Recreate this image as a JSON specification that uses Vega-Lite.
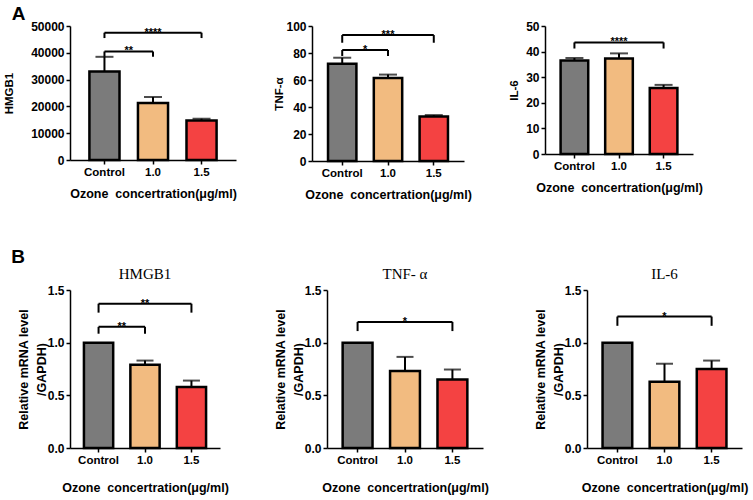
{
  "$schema": "https://vega.github.io/schema/vega-lite/v6.json",
  "padding": {"left": 3, "right": 3, "top": 5, "bottom": 3},
  "background": "white",
  "datasets": {
    "bars": [
      {"panel": "A1", "group": "Control", "value": 33000, "upper": 38500},
      {"panel": "A1", "group": "1.0", "value": 21300, "upper": 23500},
      {"panel": "A1", "group": "1.5", "value": 14700, "upper": 15400},
      {"panel": "A2", "group": "Control", "value": 72, "upper": 76.5},
      {"panel": "A2", "group": "1.0", "value": 61.5, "upper": 64},
      {"panel": "A2", "group": "1.5", "value": 33, "upper": 34},
      {"panel": "A3", "group": "Control", "value": 36.5, "upper": 37.5},
      {"panel": "A3", "group": "1.0", "value": 37.3, "upper": 39.3},
      {"panel": "A3", "group": "1.5", "value": 25.8, "upper": 27},
      {"panel": "B1", "group": "Control", "value": 1.0, "upper": null},
      {"panel": "B1", "group": "1.0", "value": 0.79, "upper": 0.83},
      {"panel": "B1", "group": "1.5", "value": 0.58, "upper": 0.64},
      {"panel": "B2", "group": "Control", "value": 1.0, "upper": null},
      {"panel": "B2", "group": "1.0", "value": 0.73, "upper": 0.865},
      {"panel": "B2", "group": "1.5", "value": 0.65, "upper": 0.745},
      {"panel": "B3", "group": "Control", "value": 1.0, "upper": null},
      {"panel": "B3", "group": "1.0", "value": 0.63, "upper": 0.80},
      {"panel": "B3", "group": "1.5", "value": 0.75, "upper": 0.83}
    ],
    "brackets": [
      {"panel": "A1", "from": "Control", "to": "1.0", "mid": "Control", "span": 1, "y": 40500, "leg": 38500, "label": "**"},
      {"panel": "A1", "from": "Control", "to": "1.5", "mid": "1.0", "span": 2, "y": 47500, "leg": 45500, "label": "****"},
      {"panel": "A2", "from": "Control", "to": "1.0", "mid": "Control", "span": 1, "y": 82.2, "leg": 77.8, "label": "*"},
      {"panel": "A2", "from": "Control", "to": "1.5", "mid": "1.0", "span": 2, "y": 93.3, "leg": 87.6, "label": "***"},
      {"panel": "A3", "from": "Control", "to": "1.5", "mid": "1.0", "span": 2, "y": 43.6, "leg": 41.2, "label": "****"},
      {"panel": "B1", "from": "Control", "to": "1.0", "mid": "Control", "span": 1, "y": 1.15, "leg": 1.085, "label": "**"},
      {"panel": "B1", "from": "Control", "to": "1.5", "mid": "1.0", "span": 2, "y": 1.37, "leg": 1.285, "label": "**"},
      {"panel": "B2", "from": "Control", "to": "1.5", "mid": "1.0", "span": 2, "y": 1.197, "leg": 1.11, "label": "*"},
      {"panel": "B3", "from": "Control", "to": "1.5", "mid": "1.0", "span": 2, "y": 1.248, "leg": 1.16, "label": "*"}
    ]
  },
  "columns": 1,
  "align": "none",
  "spacing": 47,
  "concat": [
    {
      "title": {"text": "A", "anchor": "start", "font": "Liberation Sans", "fontSize": 19, "fontWeight": "bold", "color": "black", "offset": -4, "dx": 8},
      "spacing": 36,
      "hconcat": [
        {
          "width": 166, "height": 134,
          "layer": [
            {"data": {"name": "bars"}, "transform": [{"filter": "datum.panel === 'A1'"}],
             "mark": {"type": "bar", "stroke": "black", "strokeWidth": 2.5},
             "encoding": {
               "x": {"field": "group", "type": "nominal", "sort": ["Control", "1.0", "1.5"], "scale": {"domain": ["Control", "1.0", "1.5"], "paddingInner": 0.38, "paddingOuter": 0.4}, "title": "Ozone\u00a0 concertration(μg/ml)", "axis": {"titlePadding": 10}},
               "y": {"field": "value", "type": "quantitative", "scale": {"domain": [0, 50000], "nice": false}, "title": "HMGB1", "axis": {"values": [0, 10000, 20000, 30000, 40000, 50000], "format": "d", "titlePadding": 16, "titleFontSize": 11.5}},
               "fill": {"field": "group", "type": "nominal", "scale": {"domain": ["Control", "1.0", "1.5"], "range": ["#7b7b7b", "#f2bb80", "#f44242"]}, "legend": null}
             }},
            {"data": {"name": "bars"}, "transform": [{"filter": "datum.panel === 'A1' && isValid(datum.upper)"}],
             "mark": {"type": "rule", "strokeWidth": 2, "color": "black"},
             "encoding": {"x": {"field": "group", "type": "nominal", "title": "Ozone\u00a0 concertration(μg/ml)"}, "y": {"field": "value", "type": "quantitative", "title": "HMGB1", "axis": {"values": [0, 10000, 20000, 30000, 40000, 50000], "format": "d", "titlePadding": 16, "titleFontSize": 11.5}}, "y2": {"field": "upper"}}},
            {"data": {"name": "bars"}, "transform": [{"filter": "datum.panel === 'A1' && isValid(datum.upper)"}],
             "mark": {"type": "tick", "thickness": 2, "size": 18, "color": "black"},
             "encoding": {"x": {"field": "group", "type": "nominal", "title": "Ozone\u00a0 concertration(μg/ml)"}, "y": {"field": "upper", "type": "quantitative", "title": "HMGB1", "axis": {"values": [0, 10000, 20000, 30000, 40000, 50000], "format": "d", "titlePadding": 16, "titleFontSize": 11.5}}}},
            {"data": {"name": "brackets"}, "transform": [{"filter": "datum.panel === 'A1'"}],
             "mark": {"type": "rule", "strokeWidth": 2, "color": "black"},
             "encoding": {"x": {"field": "from", "type": "nominal", "title": "Ozone\u00a0 concertration(μg/ml)"}, "x2": {"field": "to"}, "y": {"field": "y", "type": "quantitative", "title": "HMGB1", "axis": {"values": [0, 10000, 20000, 30000, 40000, 50000], "format": "d", "titlePadding": 16, "titleFontSize": 11.5}}}},
            {"data": {"name": "brackets"}, "transform": [{"filter": "datum.panel === 'A1'"}],
             "mark": {"type": "rule", "strokeWidth": 2, "color": "black"},
             "encoding": {"x": {"field": "from", "type": "nominal", "title": "Ozone\u00a0 concertration(μg/ml)"}, "y": {"field": "leg", "type": "quantitative", "title": "HMGB1", "axis": {"values": [0, 10000, 20000, 30000, 40000, 50000], "format": "d", "titlePadding": 16, "titleFontSize": 11.5}}, "y2": {"field": "y"}}},
            {"data": {"name": "brackets"}, "transform": [{"filter": "datum.panel === 'A1'"}],
             "mark": {"type": "rule", "strokeWidth": 2, "color": "black"},
             "encoding": {"x": {"field": "to", "type": "nominal", "title": "Ozone\u00a0 concertration(μg/ml)"}, "y": {"field": "leg", "type": "quantitative", "title": "HMGB1", "axis": {"values": [0, 10000, 20000, 30000, 40000, 50000], "format": "d", "titlePadding": 16, "titleFontSize": 11.5}}, "y2": {"field": "y"}}},
            {"data": {"name": "brackets"}, "transform": [{"filter": "datum.panel === 'A1' && datum.span === 1"}],
             "mark": {"type": "text", "fontSize": 11, "fontWeight": "bold", "baseline": "middle", "font": "Liberation Sans"},
             "encoding": {"x": {"field": "mid", "type": "nominal", "bandPosition": 1.306, "title": "Ozone\u00a0 concertration(μg/ml)"}, "y": {"field": "y", "type": "quantitative", "title": "HMGB1", "axis": {"values": [0, 10000, 20000, 30000, 40000, 50000], "format": "d", "titlePadding": 16, "titleFontSize": 11.5}}, "text": {"field": "label"}}},
            {"data": {"name": "brackets"}, "transform": [{"filter": "datum.panel === 'A1' && datum.span === 2"}],
             "mark": {"type": "text", "fontSize": 11, "fontWeight": "bold", "baseline": "middle", "font": "Liberation Sans"},
             "encoding": {"x": {"field": "mid", "type": "nominal", "title": "Ozone\u00a0 concertration(μg/ml)"}, "y": {"field": "y", "type": "quantitative", "title": "HMGB1", "axis": {"values": [0, 10000, 20000, 30000, 40000, 50000], "format": "d", "titlePadding": 16, "titleFontSize": 11.5}}, "text": {"field": "label"}}}
          ]
        },
        {
          "width": 152, "height": 135,
          "layer": [
            {"data": {"name": "bars"}, "transform": [{"filter": "datum.panel === 'A2'"}],
             "mark": {"type": "bar", "stroke": "black", "strokeWidth": 2.5},
             "encoding": {
               "x": {"field": "group", "type": "nominal", "sort": ["Control", "1.0", "1.5"], "scale": {"domain": ["Control", "1.0", "1.5"], "paddingInner": 0.38, "paddingOuter": 0.35}, "title": "Ozone\u00a0 concertration(μg/ml)", "axis": {"titlePadding": 10}},
               "y": {"field": "value", "type": "quantitative", "scale": {"domain": [0, 100], "nice": false}, "title": "TNF-α", "axis": {"values": [0, 20, 40, 60, 80, 100], "format": "d", "titlePadding": 1, "titleFontSize": 11.5}},
               "fill": {"field": "group", "type": "nominal", "scale": {"domain": ["Control", "1.0", "1.5"], "range": ["#7b7b7b", "#f2bb80", "#f44242"]}, "legend": null}
             }},
            {"data": {"name": "bars"}, "transform": [{"filter": "datum.panel === 'A2' && isValid(datum.upper)"}],
             "mark": {"type": "rule", "strokeWidth": 2, "color": "black"},
             "encoding": {"x": {"field": "group", "type": "nominal", "title": "Ozone\u00a0 concertration(μg/ml)"}, "y": {"field": "value", "type": "quantitative", "title": "TNF-α", "axis": {"values": [0, 20, 40, 60, 80, 100], "format": "d", "titlePadding": 1, "titleFontSize": 11.5}}, "y2": {"field": "upper"}}},
            {"data": {"name": "bars"}, "transform": [{"filter": "datum.panel === 'A2' && isValid(datum.upper)"}],
             "mark": {"type": "tick", "thickness": 2, "size": 18, "color": "black"},
             "encoding": {"x": {"field": "group", "type": "nominal", "title": "Ozone\u00a0 concertration(μg/ml)"}, "y": {"field": "upper", "type": "quantitative", "title": "TNF-α", "axis": {"values": [0, 20, 40, 60, 80, 100], "format": "d", "titlePadding": 1, "titleFontSize": 11.5}}}},
            {"data": {"name": "brackets"}, "transform": [{"filter": "datum.panel === 'A2'"}],
             "mark": {"type": "rule", "strokeWidth": 2, "color": "black"},
             "encoding": {"x": {"field": "from", "type": "nominal", "title": "Ozone\u00a0 concertration(μg/ml)"}, "x2": {"field": "to"}, "y": {"field": "y", "type": "quantitative", "title": "TNF-α", "axis": {"values": [0, 20, 40, 60, 80, 100], "format": "d", "titlePadding": 1, "titleFontSize": 11.5}}}},
            {"data": {"name": "brackets"}, "transform": [{"filter": "datum.panel === 'A2'"}],
             "mark": {"type": "rule", "strokeWidth": 2, "color": "black"},
             "encoding": {"x": {"field": "from", "type": "nominal", "title": "Ozone\u00a0 concertration(μg/ml)"}, "y": {"field": "leg", "type": "quantitative", "title": "TNF-α", "axis": {"values": [0, 20, 40, 60, 80, 100], "format": "d", "titlePadding": 1, "titleFontSize": 11.5}}, "y2": {"field": "y"}}},
            {"data": {"name": "brackets"}, "transform": [{"filter": "datum.panel === 'A2'"}],
             "mark": {"type": "rule", "strokeWidth": 2, "color": "black"},
             "encoding": {"x": {"field": "to", "type": "nominal", "title": "Ozone\u00a0 concertration(μg/ml)"}, "y": {"field": "leg", "type": "quantitative", "title": "TNF-α", "axis": {"values": [0, 20, 40, 60, 80, 100], "format": "d", "titlePadding": 1, "titleFontSize": 11.5}}, "y2": {"field": "y"}}},
            {"data": {"name": "brackets"}, "transform": [{"filter": "datum.panel === 'A2' && datum.span === 1"}],
             "mark": {"type": "text", "fontSize": 11, "fontWeight": "bold", "baseline": "middle", "font": "Liberation Sans"},
             "encoding": {"x": {"field": "mid", "type": "nominal", "bandPosition": 1.306, "title": "Ozone\u00a0 concertration(μg/ml)"}, "y": {"field": "y", "type": "quantitative", "title": "TNF-α", "axis": {"values": [0, 20, 40, 60, 80, 100], "format": "d", "titlePadding": 1, "titleFontSize": 11.5}}, "text": {"field": "label"}}},
            {"data": {"name": "brackets"}, "transform": [{"filter": "datum.panel === 'A2' && datum.span === 2"}],
             "mark": {"type": "text", "fontSize": 11, "fontWeight": "bold", "baseline": "middle", "font": "Liberation Sans"},
             "encoding": {"x": {"field": "mid", "type": "nominal", "title": "Ozone\u00a0 concertration(μg/ml)"}, "y": {"field": "y", "type": "quantitative", "title": "TNF-α", "axis": {"values": [0, 20, 40, 60, 80, 100], "format": "d", "titlePadding": 1, "titleFontSize": 11.5}}, "text": {"field": "label"}}}
          ]
        },
        {
          "width": 148, "height": 128,
          "layer": [
            {"data": {"name": "bars"}, "transform": [{"filter": "datum.panel === 'A3'"}],
             "mark": {"type": "bar", "stroke": "black", "strokeWidth": 2.5},
             "encoding": {
               "x": {"field": "group", "type": "nominal", "sort": ["Control", "1.0", "1.5"], "scale": {"domain": ["Control", "1.0", "1.5"], "paddingInner": 0.38, "paddingOuter": 0.35}, "title": "Ozone\u00a0 concertration(μg/ml)", "axis": {"titlePadding": 10}},
               "y": {"field": "value", "type": "quantitative", "scale": {"domain": [0, 50], "nice": false}, "title": "IL-6", "axis": {"values": [0, 10, 20, 30, 40, 50], "format": "d", "titlePadding": 6, "titleFontSize": 11.5}},
               "fill": {"field": "group", "type": "nominal", "scale": {"domain": ["Control", "1.0", "1.5"], "range": ["#7b7b7b", "#f2bb80", "#f44242"]}, "legend": null}
             }},
            {"data": {"name": "bars"}, "transform": [{"filter": "datum.panel === 'A3' && isValid(datum.upper)"}],
             "mark": {"type": "rule", "strokeWidth": 2, "color": "black"},
             "encoding": {"x": {"field": "group", "type": "nominal", "title": "Ozone\u00a0 concertration(μg/ml)"}, "y": {"field": "value", "type": "quantitative", "title": "IL-6", "axis": {"values": [0, 10, 20, 30, 40, 50], "format": "d", "titlePadding": 6, "titleFontSize": 11.5}}, "y2": {"field": "upper"}}},
            {"data": {"name": "bars"}, "transform": [{"filter": "datum.panel === 'A3' && isValid(datum.upper)"}],
             "mark": {"type": "tick", "thickness": 2, "size": 18, "color": "black"},
             "encoding": {"x": {"field": "group", "type": "nominal", "title": "Ozone\u00a0 concertration(μg/ml)"}, "y": {"field": "upper", "type": "quantitative", "title": "IL-6", "axis": {"values": [0, 10, 20, 30, 40, 50], "format": "d", "titlePadding": 6, "titleFontSize": 11.5}}}},
            {"data": {"name": "brackets"}, "transform": [{"filter": "datum.panel === 'A3'"}],
             "mark": {"type": "rule", "strokeWidth": 2, "color": "black"},
             "encoding": {"x": {"field": "from", "type": "nominal", "title": "Ozone\u00a0 concertration(μg/ml)"}, "x2": {"field": "to"}, "y": {"field": "y", "type": "quantitative", "title": "IL-6", "axis": {"values": [0, 10, 20, 30, 40, 50], "format": "d", "titlePadding": 6, "titleFontSize": 11.5}}}},
            {"data": {"name": "brackets"}, "transform": [{"filter": "datum.panel === 'A3'"}],
             "mark": {"type": "rule", "strokeWidth": 2, "color": "black"},
             "encoding": {"x": {"field": "from", "type": "nominal", "title": "Ozone\u00a0 concertration(μg/ml)"}, "y": {"field": "leg", "type": "quantitative", "title": "IL-6", "axis": {"values": [0, 10, 20, 30, 40, 50], "format": "d", "titlePadding": 6, "titleFontSize": 11.5}}, "y2": {"field": "y"}}},
            {"data": {"name": "brackets"}, "transform": [{"filter": "datum.panel === 'A3'"}],
             "mark": {"type": "rule", "strokeWidth": 2, "color": "black"},
             "encoding": {"x": {"field": "to", "type": "nominal", "title": "Ozone\u00a0 concertration(μg/ml)"}, "y": {"field": "leg", "type": "quantitative", "title": "IL-6", "axis": {"values": [0, 10, 20, 30, 40, 50], "format": "d", "titlePadding": 6, "titleFontSize": 11.5}}, "y2": {"field": "y"}}},
            {"data": {"name": "brackets"}, "transform": [{"filter": "datum.panel === 'A3' && datum.span === 2"}],
             "mark": {"type": "text", "fontSize": 11, "fontWeight": "bold", "baseline": "middle", "font": "Liberation Sans"},
             "encoding": {"x": {"field": "mid", "type": "nominal", "title": "Ozone\u00a0 concertration(μg/ml)"}, "y": {"field": "y", "type": "quantitative", "title": "IL-6", "axis": {"values": [0, 10, 20, 30, 40, 50], "format": "d", "titlePadding": 6, "titleFontSize": 11.5}}, "text": {"field": "label"}}}
          ]
        }
      ]
    },
    {
      "title": {"text": "B", "anchor": "start", "font": "Liberation Sans", "fontSize": 19, "fontWeight": "bold", "color": "black", "offset": 0, "dx": -6},
      "spacing": 45,
      "hconcat": [
        {
          "width": 150, "height": 158,
          "title": {"text": "HMGB1"},
          "layer": [
            {"data": {"name": "bars"}, "transform": [{"filter": "datum.panel === 'B1'"}],
             "mark": {"type": "bar", "stroke": "black", "strokeWidth": 2.5},
             "encoding": {
               "x": {"field": "group", "type": "nominal", "sort": ["Control", "1.0", "1.5"], "scale": {"domain": ["Control", "1.0", "1.5"], "paddingInner": 0.37, "paddingOuter": 0.3}, "title": "Ozone\u00a0 concertration(μg/ml)", "axis": {"titlePadding": 16}},
               "y": {"field": "value", "type": "quantitative", "scale": {"domain": [0, 1.5], "nice": false}, "title": ["Relative mRNA level", "/GAPDH)"], "axis": {"values": [0, 0.5, 1, 1.5], "format": ".1f", "titlePadding": 12, "titleLineHeight": 18, "titleBaseline": "top"}},
               "fill": {"field": "group", "type": "nominal", "scale": {"domain": ["Control", "1.0", "1.5"], "range": ["#7b7b7b", "#f2bb80", "#f44242"]}, "legend": null}
             }},
            {"data": {"name": "bars"}, "transform": [{"filter": "datum.panel === 'B1' && isValid(datum.upper)"}],
             "mark": {"type": "rule", "strokeWidth": 2, "color": "black"},
             "encoding": {"x": {"field": "group", "type": "nominal", "title": "Ozone\u00a0 concertration(μg/ml)"}, "y": {"field": "value", "type": "quantitative", "title": ["Relative mRNA level", "/GAPDH)"], "axis": {"values": [0, 0.5, 1, 1.5], "format": ".1f", "titlePadding": 12, "titleLineHeight": 18, "titleBaseline": "top"}}, "y2": {"field": "upper"}}},
            {"data": {"name": "bars"}, "transform": [{"filter": "datum.panel === 'B1' && isValid(datum.upper)"}],
             "mark": {"type": "tick", "thickness": 2, "size": 17, "color": "black"},
             "encoding": {"x": {"field": "group", "type": "nominal", "title": "Ozone\u00a0 concertration(μg/ml)"}, "y": {"field": "upper", "type": "quantitative", "title": ["Relative mRNA level", "/GAPDH)"], "axis": {"values": [0, 0.5, 1, 1.5], "format": ".1f", "titlePadding": 12, "titleLineHeight": 18, "titleBaseline": "top"}}}},
            {"data": {"name": "brackets"}, "transform": [{"filter": "datum.panel === 'B1'"}],
             "mark": {"type": "rule", "strokeWidth": 2, "color": "black"},
             "encoding": {"x": {"field": "from", "type": "nominal", "title": "Ozone\u00a0 concertration(μg/ml)"}, "x2": {"field": "to"}, "y": {"field": "y", "type": "quantitative", "title": ["Relative mRNA level", "/GAPDH)"], "axis": {"values": [0, 0.5, 1, 1.5], "format": ".1f", "titlePadding": 12, "titleLineHeight": 18, "titleBaseline": "top"}}}},
            {"data": {"name": "brackets"}, "transform": [{"filter": "datum.panel === 'B1'"}],
             "mark": {"type": "rule", "strokeWidth": 2, "color": "black"},
             "encoding": {"x": {"field": "from", "type": "nominal", "title": "Ozone\u00a0 concertration(μg/ml)"}, "y": {"field": "leg", "type": "quantitative", "title": ["Relative mRNA level", "/GAPDH)"], "axis": {"values": [0, 0.5, 1, 1.5], "format": ".1f", "titlePadding": 12, "titleLineHeight": 18, "titleBaseline": "top"}}, "y2": {"field": "y"}}},
            {"data": {"name": "brackets"}, "transform": [{"filter": "datum.panel === 'B1'"}],
             "mark": {"type": "rule", "strokeWidth": 2, "color": "black"},
             "encoding": {"x": {"field": "to", "type": "nominal", "title": "Ozone\u00a0 concertration(μg/ml)"}, "y": {"field": "leg", "type": "quantitative", "title": ["Relative mRNA level", "/GAPDH)"], "axis": {"values": [0, 0.5, 1, 1.5], "format": ".1f", "titlePadding": 12, "titleLineHeight": 18, "titleBaseline": "top"}}, "y2": {"field": "y"}}},
            {"data": {"name": "brackets"}, "transform": [{"filter": "datum.panel === 'B1' && datum.span === 1"}],
             "mark": {"type": "text", "fontSize": 11, "fontWeight": "bold", "baseline": "middle", "font": "Liberation Sans"},
             "encoding": {"x": {"field": "mid", "type": "nominal", "bandPosition": 1.294, "title": "Ozone\u00a0 concertration(μg/ml)"}, "y": {"field": "y", "type": "quantitative", "title": ["Relative mRNA level", "/GAPDH)"], "axis": {"values": [0, 0.5, 1, 1.5], "format": ".1f", "titlePadding": 12, "titleLineHeight": 18, "titleBaseline": "top"}}, "text": {"field": "label"}}},
            {"data": {"name": "brackets"}, "transform": [{"filter": "datum.panel === 'B1' && datum.span === 2"}],
             "mark": {"type": "text", "fontSize": 11, "fontWeight": "bold", "baseline": "middle", "font": "Liberation Sans"},
             "encoding": {"x": {"field": "mid", "type": "nominal", "title": "Ozone\u00a0 concertration(μg/ml)"}, "y": {"field": "y", "type": "quantitative", "title": ["Relative mRNA level", "/GAPDH)"], "axis": {"values": [0, 0.5, 1, 1.5], "format": ".1f", "titlePadding": 12, "titleLineHeight": 18, "titleBaseline": "top"}}, "text": {"field": "label"}}}
          ]
        },
        {
          "width": 156, "height": 158,
          "title": {"text": "TNF- α"},
          "layer": [
            {"data": {"name": "bars"}, "transform": [{"filter": "datum.panel === 'B2'"}],
             "mark": {"type": "bar", "stroke": "black", "strokeWidth": 2.5},
             "encoding": {
               "x": {"field": "group", "type": "nominal", "sort": ["Control", "1.0", "1.5"], "scale": {"domain": ["Control", "1.0", "1.5"], "paddingInner": 0.37, "paddingOuter": 0.33}, "title": "Ozone\u00a0 concertration(μg/ml)", "axis": {"titlePadding": 16}},
               "y": {"field": "value", "type": "quantitative", "scale": {"domain": [0, 1.5], "nice": false}, "title": ["Relative mRNA level", "/GAPDH)"], "axis": {"values": [0, 0.5, 1, 1.5], "format": ".1f", "titlePadding": 12, "titleLineHeight": 18, "titleBaseline": "top"}},
               "fill": {"field": "group", "type": "nominal", "scale": {"domain": ["Control", "1.0", "1.5"], "range": ["#7b7b7b", "#f2bb80", "#f44242"]}, "legend": null}
             }},
            {"data": {"name": "bars"}, "transform": [{"filter": "datum.panel === 'B2' && isValid(datum.upper)"}],
             "mark": {"type": "rule", "strokeWidth": 2, "color": "black"},
             "encoding": {"x": {"field": "group", "type": "nominal", "title": "Ozone\u00a0 concertration(μg/ml)"}, "y": {"field": "value", "type": "quantitative", "title": ["Relative mRNA level", "/GAPDH)"], "axis": {"values": [0, 0.5, 1, 1.5], "format": ".1f", "titlePadding": 12, "titleLineHeight": 18, "titleBaseline": "top"}}, "y2": {"field": "upper"}}},
            {"data": {"name": "bars"}, "transform": [{"filter": "datum.panel === 'B2' && isValid(datum.upper)"}],
             "mark": {"type": "tick", "thickness": 2, "size": 17, "color": "black"},
             "encoding": {"x": {"field": "group", "type": "nominal", "title": "Ozone\u00a0 concertration(μg/ml)"}, "y": {"field": "upper", "type": "quantitative", "title": ["Relative mRNA level", "/GAPDH)"], "axis": {"values": [0, 0.5, 1, 1.5], "format": ".1f", "titlePadding": 12, "titleLineHeight": 18, "titleBaseline": "top"}}}},
            {"data": {"name": "brackets"}, "transform": [{"filter": "datum.panel === 'B2'"}],
             "mark": {"type": "rule", "strokeWidth": 2, "color": "black"},
             "encoding": {"x": {"field": "from", "type": "nominal", "title": "Ozone\u00a0 concertration(μg/ml)"}, "x2": {"field": "to"}, "y": {"field": "y", "type": "quantitative", "title": ["Relative mRNA level", "/GAPDH)"], "axis": {"values": [0, 0.5, 1, 1.5], "format": ".1f", "titlePadding": 12, "titleLineHeight": 18, "titleBaseline": "top"}}}},
            {"data": {"name": "brackets"}, "transform": [{"filter": "datum.panel === 'B2'"}],
             "mark": {"type": "rule", "strokeWidth": 2, "color": "black"},
             "encoding": {"x": {"field": "from", "type": "nominal", "title": "Ozone\u00a0 concertration(μg/ml)"}, "y": {"field": "leg", "type": "quantitative", "title": ["Relative mRNA level", "/GAPDH)"], "axis": {"values": [0, 0.5, 1, 1.5], "format": ".1f", "titlePadding": 12, "titleLineHeight": 18, "titleBaseline": "top"}}, "y2": {"field": "y"}}},
            {"data": {"name": "brackets"}, "transform": [{"filter": "datum.panel === 'B2'"}],
             "mark": {"type": "rule", "strokeWidth": 2, "color": "black"},
             "encoding": {"x": {"field": "to", "type": "nominal", "title": "Ozone\u00a0 concertration(μg/ml)"}, "y": {"field": "leg", "type": "quantitative", "title": ["Relative mRNA level", "/GAPDH)"], "axis": {"values": [0, 0.5, 1, 1.5], "format": ".1f", "titlePadding": 12, "titleLineHeight": 18, "titleBaseline": "top"}}, "y2": {"field": "y"}}},
            {"data": {"name": "brackets"}, "transform": [{"filter": "datum.panel === 'B2' && datum.span === 2"}],
             "mark": {"type": "text", "fontSize": 11, "fontWeight": "bold", "baseline": "middle", "font": "Liberation Sans"},
             "encoding": {"x": {"field": "mid", "type": "nominal", "title": "Ozone\u00a0 concertration(μg/ml)"}, "y": {"field": "y", "type": "quantitative", "title": ["Relative mRNA level", "/GAPDH)"], "axis": {"values": [0, 0.5, 1, 1.5], "format": ".1f", "titlePadding": 12, "titleLineHeight": 18, "titleBaseline": "top"}}, "text": {"field": "label"}}}
          ]
        },
        {
          "width": 155, "height": 158,
          "title": {"text": "IL-6"},
          "layer": [
            {"data": {"name": "bars"}, "transform": [{"filter": "datum.panel === 'B3'"}],
             "mark": {"type": "bar", "stroke": "black", "strokeWidth": 2.5},
             "encoding": {
               "x": {"field": "group", "type": "nominal", "sort": ["Control", "1.0", "1.5"], "scale": {"domain": ["Control", "1.0", "1.5"], "paddingInner": 0.37, "paddingOuter": 0.33}, "title": "Ozone\u00a0 concertration(μg/ml)", "axis": {"titlePadding": 16}},
               "y": {"field": "value", "type": "quantitative", "scale": {"domain": [0, 1.5], "nice": false}, "title": ["Relative mRNA level", "/GAPDH)"], "axis": {"values": [0, 0.5, 1, 1.5], "format": ".1f", "titlePadding": 12, "titleLineHeight": 18, "titleBaseline": "top"}},
               "fill": {"field": "group", "type": "nominal", "scale": {"domain": ["Control", "1.0", "1.5"], "range": ["#7b7b7b", "#f2bb80", "#f44242"]}, "legend": null}
             }},
            {"data": {"name": "bars"}, "transform": [{"filter": "datum.panel === 'B3' && isValid(datum.upper)"}],
             "mark": {"type": "rule", "strokeWidth": 2, "color": "black"},
             "encoding": {"x": {"field": "group", "type": "nominal", "title": "Ozone\u00a0 concertration(μg/ml)"}, "y": {"field": "value", "type": "quantitative", "title": ["Relative mRNA level", "/GAPDH)"], "axis": {"values": [0, 0.5, 1, 1.5], "format": ".1f", "titlePadding": 12, "titleLineHeight": 18, "titleBaseline": "top"}}, "y2": {"field": "upper"}}},
            {"data": {"name": "bars"}, "transform": [{"filter": "datum.panel === 'B3' && isValid(datum.upper)"}],
             "mark": {"type": "tick", "thickness": 2, "size": 17, "color": "black"},
             "encoding": {"x": {"field": "group", "type": "nominal", "title": "Ozone\u00a0 concertration(μg/ml)"}, "y": {"field": "upper", "type": "quantitative", "title": ["Relative mRNA level", "/GAPDH)"], "axis": {"values": [0, 0.5, 1, 1.5], "format": ".1f", "titlePadding": 12, "titleLineHeight": 18, "titleBaseline": "top"}}}},
            {"data": {"name": "brackets"}, "transform": [{"filter": "datum.panel === 'B3'"}],
             "mark": {"type": "rule", "strokeWidth": 2, "color": "black"},
             "encoding": {"x": {"field": "from", "type": "nominal", "title": "Ozone\u00a0 concertration(μg/ml)"}, "x2": {"field": "to"}, "y": {"field": "y", "type": "quantitative", "title": ["Relative mRNA level", "/GAPDH)"], "axis": {"values": [0, 0.5, 1, 1.5], "format": ".1f", "titlePadding": 12, "titleLineHeight": 18, "titleBaseline": "top"}}}},
            {"data": {"name": "brackets"}, "transform": [{"filter": "datum.panel === 'B3'"}],
             "mark": {"type": "rule", "strokeWidth": 2, "color": "black"},
             "encoding": {"x": {"field": "from", "type": "nominal", "title": "Ozone\u00a0 concertration(μg/ml)"}, "y": {"field": "leg", "type": "quantitative", "title": ["Relative mRNA level", "/GAPDH)"], "axis": {"values": [0, 0.5, 1, 1.5], "format": ".1f", "titlePadding": 12, "titleLineHeight": 18, "titleBaseline": "top"}}, "y2": {"field": "y"}}},
            {"data": {"name": "brackets"}, "transform": [{"filter": "datum.panel === 'B3'"}],
             "mark": {"type": "rule", "strokeWidth": 2, "color": "black"},
             "encoding": {"x": {"field": "to", "type": "nominal", "title": "Ozone\u00a0 concertration(μg/ml)"}, "y": {"field": "leg", "type": "quantitative", "title": ["Relative mRNA level", "/GAPDH)"], "axis": {"values": [0, 0.5, 1, 1.5], "format": ".1f", "titlePadding": 12, "titleLineHeight": 18, "titleBaseline": "top"}}, "y2": {"field": "y"}}},
            {"data": {"name": "brackets"}, "transform": [{"filter": "datum.panel === 'B3' && datum.span === 2"}],
             "mark": {"type": "text", "fontSize": 11, "fontWeight": "bold", "baseline": "middle", "font": "Liberation Sans"},
             "encoding": {"x": {"field": "mid", "type": "nominal", "title": "Ozone\u00a0 concertration(μg/ml)"}, "y": {"field": "y", "type": "quantitative", "title": ["Relative mRNA level", "/GAPDH)"], "axis": {"values": [0, 0.5, 1, 1.5], "format": ".1f", "titlePadding": 12, "titleLineHeight": 18, "titleBaseline": "top"}}, "text": {"field": "label"}}}
          ]
        }
      ]
    }
  ],
  "config": {
    "view": {"stroke": null},
    "font": "Liberation Sans",
    "axis": {"grid": false, "domainColor": "black", "domainWidth": 1.5, "tickColor": "black", "tickWidth": 1.5, "tickSize": 4, "labelFont": "Liberation Sans", "labelFontWeight": "bold", "labelFontSize": 12, "labelColor": "black", "labelPadding": 2, "titleFont": "Liberation Sans", "titleFontWeight": "bold", "titleFontSize": 12.5, "titleColor": "black"},
    "axisX": {"labelAngle": 0, "labelFontSize": 11.5, "titlePadding": 13},
    "title": {"font": "Liberation Serif", "fontWeight": "normal", "fontSize": 15, "color": "black", "offset": 2}
  }
}
